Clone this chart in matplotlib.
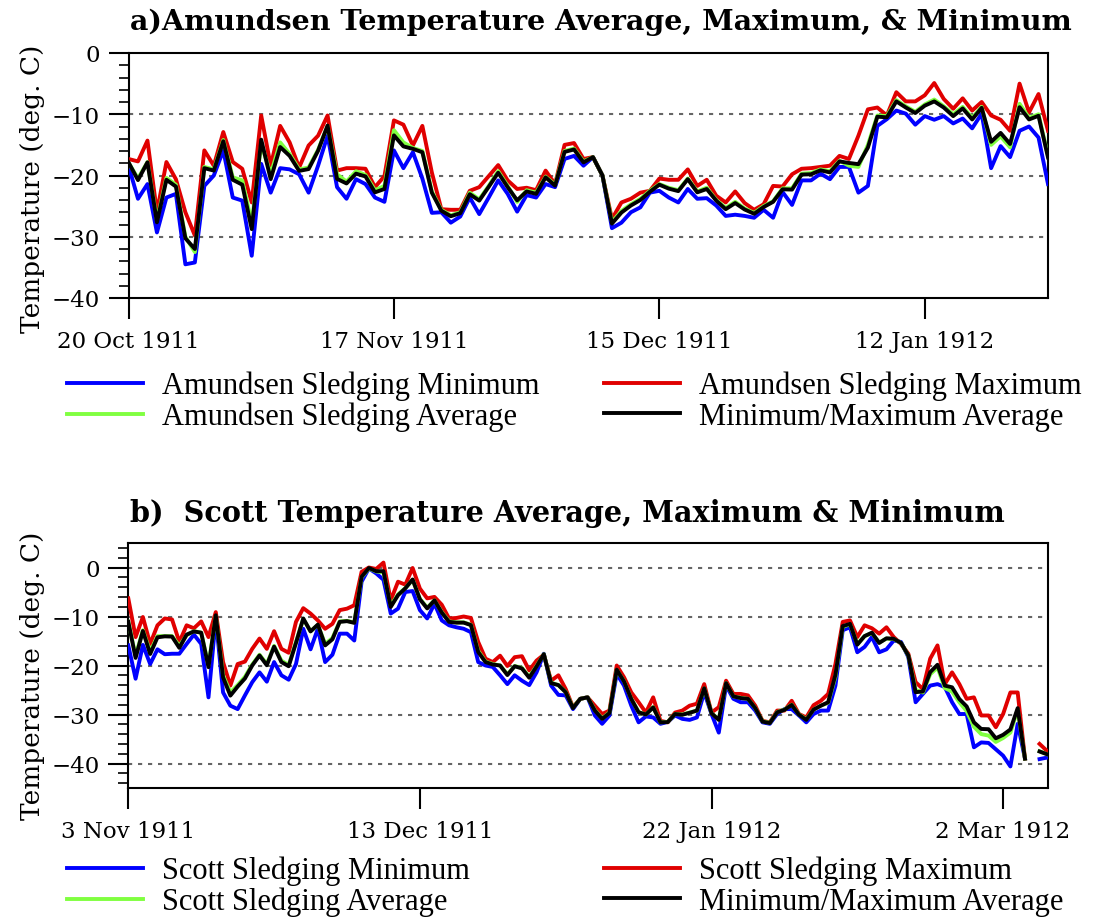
import numpy as np
import pandas as pd
import matplotlib
matplotlib.use("Agg")
import matplotlib.pyplot as plt
from matplotlib.lines import Line2D
from matplotlib.ticker import MultipleLocator

# ---------------- data ----------------
amundsen_start = "1911-10-20"
amundsen_min = [
    -18.4, -23.8, -21.4, -29.3, -23.6, -23.0, -34.5, -34.2, -21.7, -20.0,
    -15.9, -23.6, -24.1, -33.1, -18.1, -22.8, -18.8, -19.0, -19.8, -22.8,
    -18.4, -13.5, -21.9, -23.8, -20.6, -21.4, -23.6, -24.3, -15.9, -18.8,
    -16.2, -20.5, -26.1, -26.0, -27.7, -26.7, -23.6, -26.3, -23.6, -20.8,
    -23.0, -25.9, -23.2, -23.6, -21.4, -21.9, -17.3, -16.8, -18.4, -17.0,
    -20.0, -28.6, -27.7, -26.0, -25.2, -22.8, -22.5, -23.6, -24.4, -22.2,
    -23.8, -23.7, -24.9, -26.6, -26.4, -26.6, -26.9, -25.6, -26.9, -22.7,
    -24.8, -20.8, -20.8, -19.7, -20.6, -18.6, -18.6, -22.8, -21.7, -11.9,
    -10.8, -9.4, -9.9, -11.7, -10.3, -10.9, -10.3, -11.5, -10.7, -12.3,
    -9.9, -18.8, -15.2, -17.0, -12.7, -12.0, -13.8, -21.4]
amundsen_max = [
    -17.3, -17.7, -14.3, -26.0, -17.8, -20.6, -26.0, -29.8, -15.9, -18.4,
    -12.9, -17.8, -18.9, -24.4, -10.2, -18.4, -11.9, -14.6, -18.7, -15.1,
    -13.5, -10.2, -19.2, -18.8, -18.8, -18.9, -21.9, -20.1, -11.0, -11.7,
    -15.1, -11.9, -19.5, -25.5, -25.6, -25.6, -22.5, -21.9, -20.1, -18.3,
    -20.8, -22.2, -22.0, -22.4, -19.2, -21.4, -15.0, -14.7, -17.3, -17.0,
    -20.0, -27.1, -24.4, -23.8, -22.8, -22.5, -20.5, -20.7, -20.7, -19.0,
    -21.7, -20.7, -23.3, -24.4, -22.6, -24.5, -25.6, -24.7, -21.7, -21.8,
    -19.8, -18.9, -18.8, -18.6, -18.4, -16.8, -17.3, -13.5, -9.2, -8.9,
    -10.2, -6.4, -7.9, -7.9, -6.9, -4.9, -7.5, -9.1, -7.4, -9.4,
    -8.0, -10.2, -10.9, -12.7, -5.0, -9.7, -6.7, -12.7]
amundsen_avg = [
    -17.9, -20.5, -17.8, -27.3, -20.4, -21.5, -30.0, -32.5, -18.6, -19.0,
    -14.2, -20.3, -20.8, -27.8, -14.8, -19.8, -14.6, -16.5, -19.0, -18.7,
    -15.8, -11.9, -19.8, -21.0, -19.3, -19.9, -22.4, -21.7, -12.6, -14.6,
    -15.5, -16.0, -22.6, -25.6, -26.5, -26.0, -22.8, -23.9, -21.7, -19.3,
    -21.7, -24.3, -22.4, -22.8, -20.2, -21.5, -16.0, -15.6, -17.7, -17.0,
    -20.0, -27.6, -25.8, -24.7, -23.8, -22.5, -21.4, -22.0, -22.4, -20.5,
    -22.6, -22.0, -24.0, -25.3, -24.3, -25.4, -26.1, -25.0, -24.2, -22.1,
    -22.1, -19.7, -19.6, -19.0, -19.3, -17.6, -18.4, -18.6, -15.0, -10.2,
    -10.3, -7.7, -8.7, -9.6, -8.4, -7.6, -8.7, -10.0, -8.8, -10.6,
    -8.8, -15.0, -13.6, -15.4, -8.3, -10.6, -10.0, -16.8]

scott_start = "1911-11-03"
nan = np.nan
scott_min = [
    -15.9, -22.7, -15.8, -19.7, -16.7, -17.7, -17.6, -17.6, -15.6, -13.7,
    -15.6, -26.5, -10.4, -25.5, -28.2, -28.9, -26.1, -23.4, -21.4, -23.3,
    -19.3, -22.0, -22.9, -19.7, -12.5, -16.7, -12.5, -19.3, -17.8, -13.5,
    -13.5, -14.9, -2.9, -0.2, -1.2, -2.5, -9.4, -8.4, -5.0, -4.8,
    -8.7, -10.4, -7.4, -10.8, -11.8, -12.2, -12.5, -13.2, -19.3, -20.0,
    -20.3, -22.0, -23.8, -22.0, -23.1, -24.0, -21.4, -17.6, -24.1, -26.0,
    -26.1, -28.9, -26.8, -26.5, -30.2, -31.9, -30.2, -21.7, -24.1, -28.2,
    -31.6, -30.4, -30.6, -31.9, -31.5, -30.2, -30.9, -31.1, -30.6, -25.5,
    -29.9, -33.7, -24.1, -26.8, -27.5, -27.5, -29.2, -31.6, -31.9, -29.9,
    -28.9, -28.9, -30.2, -31.6, -29.9, -29.2, -29.2, -24.1, -12.8, -12.2,
    -17.3, -16.2, -14.2, -17.3, -16.7, -14.9, -15.2, -18.3, -27.5, -25.8,
    -24.1, -23.8, -24.4, -27.5, -29.9, -29.9, -36.7, -35.7, -35.8, -37.1,
    -38.4, -40.6, -31.9, -39.0, nan, -39.1, -38.8]
scott_max = [
    -6.3, -14.2, -10.1, -15.6, -11.8, -10.4, -10.6, -15.2, -11.8, -12.4,
    -11.0, -14.2, -9.1, -19.3, -24.1, -19.7, -19.2, -16.6, -14.5, -16.6,
    -13.0, -16.6, -17.4, -11.1, -8.3, -9.4, -10.8, -12.5, -11.5, -8.7,
    -8.4, -7.7, -0.9, 0.0, -0.3, 1.0, -6.7, -2.9, -3.5, -0.1,
    -4.3, -6.3, -6.0, -7.6, -10.4, -10.3, -10.0, -10.3, -15.2, -18.6,
    -19.3, -18.0, -20.1, -18.3, -18.1, -21.0, -19.0, -17.8, -23.1, -22.0,
    -24.8, -28.5, -26.8, -26.5, -28.2, -29.9, -29.2, -20.0, -22.4, -25.5,
    -27.5, -29.6, -26.5, -31.3, -31.6, -29.6, -29.2, -28.2, -27.8, -23.8,
    -29.6, -28.5, -23.1, -25.8, -25.8, -26.1, -28.2, -31.3, -31.6, -29.2,
    -29.2, -27.2, -29.9, -30.6, -28.1, -27.2, -25.8, -19.7, -11.1, -10.8,
    -14.2, -11.8, -12.4, -13.5, -12.2, -14.2, -15.6, -17.6, -23.4, -24.8,
    -18.6, -15.9, -23.8, -21.4, -23.8, -26.8, -26.5, -30.2, -30.2, -32.6,
    -29.9, -25.5, -25.5, -39.0, nan, -36.0, -37.4]
scott_avg = [
    -11.1, -18.0, -12.8, -17.2, -14.0, -14.0, -14.0, -16.0, -13.8, -13.0,
    -13.3, -20.0, -9.9, -22.0, -25.5, -24.0, -22.3, -19.8, -17.8, -19.7,
    -16.0, -19.0, -19.9, -15.2, -10.5, -13.0, -11.7, -15.6, -14.4, -11.0,
    -10.9, -11.2, -2.0, -0.2, -0.8, -1.0, -7.8, -5.5, -4.2, -2.5,
    -6.4, -8.2, -6.7, -9.1, -11.0, -11.2, -11.2, -11.7, -17.0, -19.2,
    -19.7, -20.0, -21.8, -20.1, -20.5, -22.3, -20.1, -17.7, -23.5, -24.0,
    -25.4, -28.6, -26.8, -26.5, -29.1, -30.8, -29.6, -20.9, -23.2, -26.8,
    -29.5, -30.0, -28.5, -31.6, -31.5, -29.9, -30.0, -29.6, -29.2, -24.7,
    -29.7, -31.0, -23.6, -26.3, -26.6, -26.8, -28.7, -31.4, -31.7, -29.5,
    -29.0, -28.0, -30.0, -31.0, -29.0, -28.2, -27.6, -22.3, -12.1, -11.6,
    -15.6, -14.0, -13.4, -15.3, -14.5, -14.6, -15.4, -18.0, -25.0, -25.5,
    -21.8, -20.4, -24.6, -25.3, -27.5, -29.3, -32.5, -34.0, -34.3, -35.6,
    -34.8, -33.7, -29.0, -39.0, nan, -37.5, -38.1]

amundsen_ticks = ["1911-10-20", "1911-11-17", "1911-12-15", "1912-01-12"]
scott_ticks = ["1911-11-03", "1911-12-13", "1912-01-22", "1912-03-02"]

amundsen_labels = ["Amundsen Sledging Minimum", "Amundsen Sledging Average",
                   "Amundsen Sledging Maximum", "Minimum/Maximum Average"]
scott_labels = ["Scott Sledging Minimum", "Scott Sledging Average",
                "Scott Sledging Maximum", "Minimum/Maximum Average"]

# ---------------- style ----------------
W, H = 1098, 920
C_MIN, C_MAX, C_AVG, C_MID = "#0000ff", "#e00000", "#80ff40", "#000000"
LW = 2.8
TICK_FONT = "DejaVu Serif"
LEG_FONT = "Liberation Serif"

plt.rcParams["font.family"] = TICK_FONT
fig = plt.figure(figsize=(W / 100, H / 100), dpi=100)


def px_axes(left, top, right, bottom):
    return fig.add_axes([left / W, 1 - bottom / H, (right - left) / W, (bottom - top) / H])


def draw_panel(ax, start, tmin, tmax, tavg, xspan, ylim, grid_vals, ticks, label_y):
    dates = pd.date_range(start, periods=len(tmin), freq="D")
    tmin = np.asarray(tmin, float)
    tmax = np.asarray(tmax, float)
    tmid = (tmin + tmax) / 2.0

    for v in grid_vals:
        ax.axhline(v, color="#666666", lw=1.5, ls=(0, (2.0, 2.8)), zorder=1)

    ax.plot(dates, tmin, color=C_MIN, lw=LW, zorder=3)
    ax.plot(dates, tmax, color=C_MAX, lw=LW, zorder=4)
    ax.plot(dates, tavg, color=C_AVG, lw=LW, zorder=5)
    ax.plot(dates, tmid, color=C_MID, lw=LW, zorder=6)

    t0 = pd.Timestamp(start)
    ax.set_xlim(t0, t0 + pd.Timedelta(days=xspan))
    ax.set_ylim(*ylim)

    tick_dates = [pd.Timestamp(t) for t in ticks]
    ax.set_xticks(tick_dates)
    ax.set_xticklabels([f"{t.day} {t.strftime('%b %Y')}" for t in tick_dates])
    ax.yaxis.set_major_locator(MultipleLocator(10))
    ax.yaxis.set_minor_locator(MultipleLocator(2))
    ax.tick_params(axis="x", which="major", direction="out", length=15, width=1.5,
                   labelsize=16.5, pad=8, top=False)
    ax.tick_params(axis="x", which="minor", bottom=False, top=False)
    ax.tick_params(axis="y", which="major", direction="out", length=14.5, width=1.5,
                   labelsize=16.5, pad=6, right=False)
    ax.tick_params(axis="y", which="minor", direction="out", length=7, width=1.2, right=False)
    for s in ax.spines.values():
        s.set_linewidth(1.5)
    ax.set_ylabel("Temperature (deg. C)", fontsize=19)
    ax.yaxis.set_label_coords(-0.091, label_y)


def draw_legend(labels, y_center):
    h = [Line2D([], [], color=c, lw=LW) for c in (C_MIN, C_AVG, C_MAX, C_MID)]
    common = dict(loc="center left", frameon=False, prop=dict(family=LEG_FONT, size=22),
                  handlelength=2.5, handletextpad=0.63, labelspacing=0.05,
                  borderpad=0, borderaxespad=0)
    fig.legend(h[:2], labels[:2], bbox_to_anchor=(66.5 / W, 1 - y_center / H), **common)
    fig.legend(h[2:], labels[2:], bbox_to_anchor=(603.6 / W, 1 - y_center / H), **common)


ax_a = px_axes(128.5, 54, 1048, 299)
draw_panel(ax_a, amundsen_start, amundsen_min, amundsen_max, amundsen_avg,
           97.0, (-40, 0), [-10, -20, -30], amundsen_ticks, 0.45)
ax_b = px_axes(128.3, 544, 1048.3, 789)
draw_panel(ax_b, scott_start, scott_min, scott_max, scott_avg,
           126.2, (-45, 5), [0, -10, -20, -30, -40], scott_ticks, 0.46)

fig.text(130 / W, 1 - 22 / H, "a)Amundsen Temperature Average, Maximum, & Minimum",
         fontsize=20.5, fontweight="bold", ha="left", va="center")
fig.text(130 / W, 1 - 514 / H, "b)  Scott Temperature Average, Maximum & Minimum",
         fontsize=20.7, fontweight="bold", ha="left", va="center")

draw_legend(amundsen_labels, 402)
draw_legend(scott_labels, 887)

fig.savefig("out.png", dpi=100, facecolor="white")
